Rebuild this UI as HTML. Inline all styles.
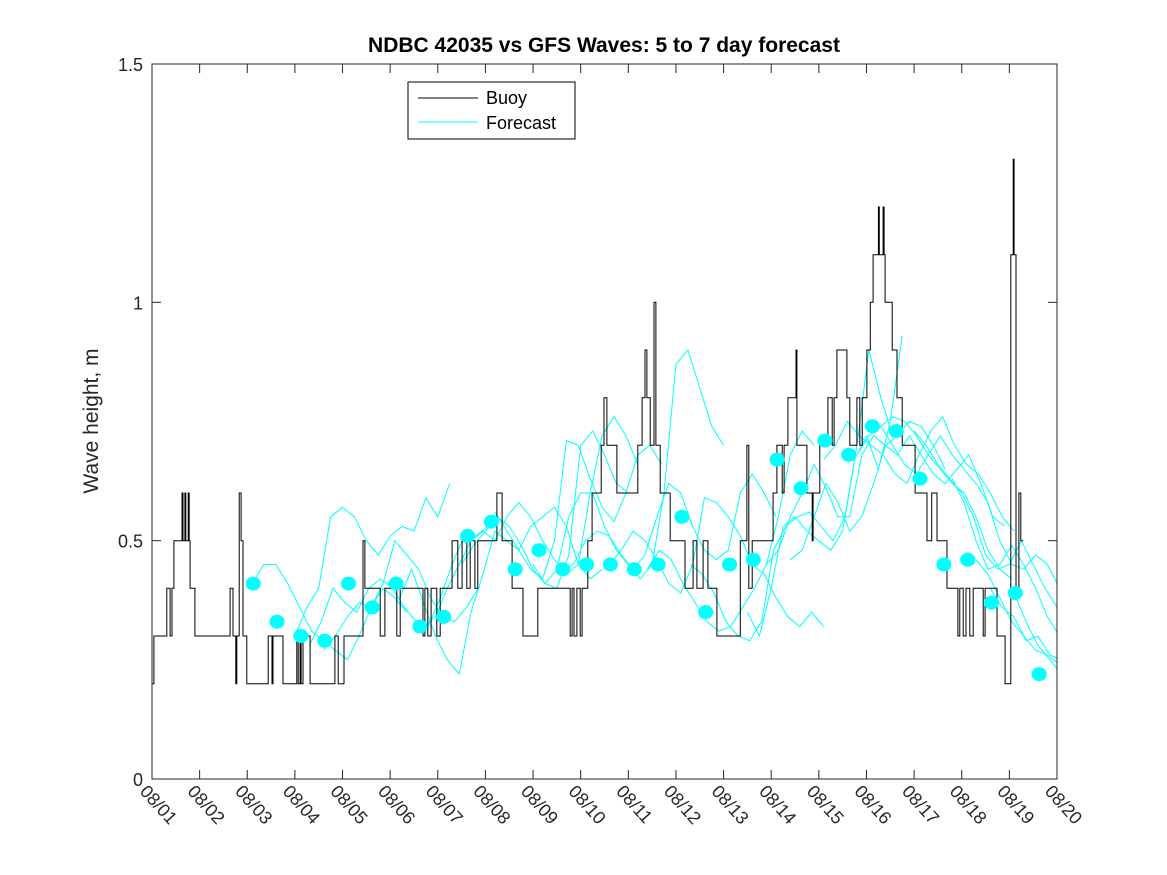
<!DOCTYPE html>
<html><head><meta charset="utf-8"><style>
html,body{margin:0;padding:0;background:#fff;}
svg{display:block;font-family:"Liberation Sans",sans-serif;}
</style></head><body>
<svg id="chart" width="1167" height="875" viewBox="0 0 1167 875">
<rect x="0" y="0" width="1167" height="875" fill="#fff"/>
<text x="604" y="52" text-anchor="middle" font-size="21" font-weight="bold">NDBC 42035 vs GFS Waves: 5 to 7 day forecast</text>
<text transform="translate(98,421) rotate(-90)" text-anchor="middle" font-size="21" fill="#262626">Wave height, m</text>
<defs><clipPath id="pc"><rect x="152" y="64" width="905" height="715"/></clipPath></defs>
<g id="series" clip-path="url(#pc)"></g>
<g id="axes"></g>
<g>
<rect x="408" y="82" width="167" height="57" fill="#fff" stroke="#000" stroke-width="1"/>
<line x1="418" y1="98" x2="478" y2="98" stroke="#000" stroke-width="1"/>
<text x="486" y="104" font-size="18">Buoy</text>
<line x1="418" y1="122" x2="478" y2="122" stroke="#00ffff" stroke-width="1"/>
<text x="486" y="129" font-size="18">Forecast</text>
</g>
</svg>
<script>
const xTickLabels=["08/01","08/02","08/03","08/04","08/05","08/06","08/07","08/08","08/09","08/10","08/11","08/12","08/13","08/14","08/15","08/16","08/17","08/18","08/19","08/20"];
const yTicks=[0,0.5,1,1.5];
const yTickLabels=["0","0.5","1","1.5"];
// buoy step series: day since 08/01, value
const buoyDays=[0,0.04,0.31,0.38,0.42,0.46,0.63,0.65,0.69,0.71,0.76,0.78,0.80,0.90,1.64,1.70,1.76,1.78,1.83,1.87,1.91,1.99,2.44,2.52,2.54,2.75,3.04,3.07,3.11,3.13,3.17,3.32,3.84,3.91,4.03,4.43,4.47,4.79,4.89,5.14,5.21,5.69,5.73,5.79,5.86,5.98,6.05,6.30,6.42,6.51,6.61,6.68,6.78,6.84,7.24,7.35,7.56,7.79,8.10,8.78,8.82,8.86,8.92,8.99,9.03,9.15,9.24,9.43,9.49,9.55,9.76,10.20,10.29,10.35,10.39,10.46,10.54,10.58,10.67,10.88,11.19,11.36,11.44,11.57,11.67,11.86,12.35,12.49,12.53,12.60,13.04,13.12,13.23,13.27,13.35,13.52,13.54,13.75,13.86,13.88,14.02,14.19,14.28,14.32,14.38,14.59,14.65,14.80,14.86,14.91,15.01,15.08,15.14,15.25,15.27,15.35,15.37,15.39,15.54,15.64,15.75,16.02,16.27,16.37,16.48,16.69,16.92,16.96,17.03,17.09,17.17,17.24,17.45,17.49,17.74,17.91,18.03,18.08,18.10,18.14,18.20,18.24,18.29];
const buoyVals=[0.2,0.3,0.4,0.3,0.4,0.5,0.6,0.5,0.6,0.5,0.6,0.5,0.4,0.3,0.4,0.3,0.2,0.3,0.6,0.5,0.3,0.2,0.3,0.2,0.3,0.2,0.3,0.2,0.3,0.2,0.3,0.2,0.3,0.2,0.3,0.5,0.4,0.3,0.4,0.3,0.4,0.3,0.4,0.3,0.4,0.3,0.4,0.5,0.4,0.5,0.4,0.5,0.4,0.5,0.6,0.5,0.4,0.3,0.4,0.3,0.4,0.3,0.4,0.3,0.4,0.5,0.6,0.7,0.8,0.7,0.6,0.7,0.8,0.9,0.8,0.7,1.0,0.7,0.6,0.5,0.4,0.5,0.4,0.5,0.4,0.3,0.5,0.7,0.4,0.5,0.6,0.7,0.6,0.7,0.8,0.9,0.7,0.6,0.5,0.6,0.7,0.8,0.7,0.8,0.9,0.8,0.7,0.8,0.7,0.8,0.9,1.0,1.1,1.2,1.1,1.2,1.1,1.0,0.9,0.8,0.7,0.6,0.5,0.6,0.5,0.4,0.3,0.4,0.3,0.4,0.3,0.4,0.3,0.4,0.3,0.2,1.1,1.3,1.1,0.4,0.6,0.5,0.5];
// forecast dots (every 0.5 day from day 2.125)
const dotStart=2.125;
const dotVals=[0.41,0.33,0.30,0.29,0.41,0.36,0.41,0.32,0.34,0.51,0.54,0.44,0.48,0.44,0.45,0.45,0.44,0.45,0.55,0.35,0.45,0.46,0.67,0.61,0.71,0.68,0.74,0.73,0.63,0.45,0.46,0.37,0.39,0.22];
// forecast runs: start day, values every 0.25 day
const runStarts=[2.1,3.0,3.3,3.6,5.2,5.7,6.5,7.2,8.0,8.6,9.6,10.4,11.3,12.5,12.9,13.4,14.1,14.8,15.3,16.0,16.8,17.3,17.6,18.1];
const runVals=[
[0.41,0.45,0.45,0.41,0.36,0.31,0.29,0.27,0.25,0.30,0.36,0.40,0.38,0.35],
[0.30,0.36,0.40,0.55,0.57,0.55,0.50,0.47,0.51,0.53,0.52,0.59,0.55,0.62],
[0.28,0.33,0.40,0.37,0.35,0.40,0.42,0.40,0.36,0.33,0.32,0.38,0.45,0.51,0.51,0.53],
[0.27,0.30,0.34,0.37,0.36,0.41,0.50,0.47,0.44,0.38,0.34,0.33,0.36,0.40],
[0.38,0.44,0.37,0.30,0.25,0.22,0.35,0.43,0.52,0.50,0.48,0.53,0.55,0.57,0.53,0.45,0.42,0.44],
[0.32,0.34,0.40,0.45,0.50,0.52,0.50,0.55,0.58,0.55,0.50,0.46,0.43,0.45,0.60,0.72,0.76,0.72,0.66],
[0.45,0.49,0.52,0.55,0.53,0.49,0.44,0.41,0.40,0.47,0.70,0.73,0.68,0.62,0.60],
[0.56,0.52,0.48,0.44,0.42,0.50,0.71,0.70,0.63,0.57,0.54,0.60,0.68,0.70,0.66],
[0.45,0.41,0.44,0.55,0.60,0.60,0.53,0.48,0.45,0.42,0.45,0.60,0.87,0.90,0.82,0.74,0.70],
[0.44,0.45,0.50,0.52,0.51,0.47,0.44,0.47,0.55,0.62,0.60,0.53,0.48,0.46,0.48,0.60,0.64,0.60,0.55],
[0.45,0.48,0.52,0.50,0.46,0.41,0.39,0.45,0.59,0.58,0.55,0.51,0.45,0.43,0.38,0.34,0.32,0.35,0.32],
[0.44,0.48,0.46,0.41,0.37,0.33,0.31,0.32,0.36,0.40,0.45,0.55,0.68,0.73,0.70],
[0.45,0.43,0.39,0.33,0.30,0.29,0.33,0.48,0.53,0.55,0.56,0.53,0.50,0.55,0.70,0.90,0.80,0.72],
[0.35,0.30,0.40,0.53,0.55,0.52,0.50,0.48,0.52,0.67,0.72,0.65,0.75,0.93],
[0.45,0.48,0.55,0.60,0.66,0.61,0.55,0.55,0.68,0.72,0.70,0.72,0.75,0.74,0.70,0.65],
[0.46,0.48,0.55,0.62,0.58,0.52,0.55,0.62,0.70,0.68,0.72,0.68,0.64,0.62,0.65,0.68,0.62,0.55,0.53],
[0.67,0.70,0.75,0.72,0.70,0.68,0.64,0.62,0.68,0.73,0.76,0.70,0.66,0.64,0.60,0.55,0.52],
[0.68,0.72,0.74,0.76,0.75,0.72,0.68,0.65,0.62,0.60,0.55,0.48,0.44,0.42],
[0.74,0.70,0.66,0.64,0.68,0.72,0.68,0.65,0.62,0.58,0.50,0.45,0.44,0.47,0.45,0.40],
[0.73,0.70,0.66,0.63,0.60,0.55,0.47,0.44,0.45,0.50,0.45,0.40,0.36,0.33],
[0.63,0.58,0.50,0.44,0.45,0.49,0.45,0.40,0.34,0.30,0.28,0.26,0.24],
[0.46,0.43,0.38,0.33,0.30,0.27,0.26,0.24,0.22,0.20,0.19,0.18,0.18],
[0.40,0.36,0.34,0.29,0.30,0.26,0.25,0.31,0.27,0.22,0.20,0.19,0.23],
[0.39,0.33,0.28,0.25,0.22,0.21,0.20,0.19]
];
const NS="http://www.w3.org/2000/svg";
const X0=152,X1=1057,Y0=779,Y1=64,DAYS=19,YMAX=1.5;
function xs(d){return X0+(X1-X0)*d/DAYS;}
function ys(v){return Y0-(Y0-Y1)*v/YMAX;}
function mk(tag,attrs,parent){const e=document.createElementNS(NS,tag);for(const k in attrs)e.setAttribute(k,attrs[k]);parent.appendChild(e);return e;}
const series=document.getElementById('series'),axes=document.getElementById('axes');
runVals.forEach((vals,i)=>{
  const pts=vals.map((v,j)=>xs(runStarts[i]+0.25*j).toFixed(1)+','+ys(v).toFixed(1)).join(' ');
  const pl=mk('polyline',{points:pts,fill:'none',stroke:'#00ffff','stroke-width':1},series);
  
  
});
let d='';
buoyDays.forEach((t,i)=>{
  const x=xs(t).toFixed(1),y=ys(buoyVals[i]).toFixed(1);
  if(i===0)d+='M'+x+','+y;else d+='L'+x+','+ys(buoyVals[i-1]).toFixed(1)+'L'+x+','+y;
});
const bl=mk('path',{d:d,fill:'none',stroke:'#000','stroke-width':1},series);


dotVals.forEach((v,i)=>{
  const c=mk('ellipse',{cx:xs(dotStart+0.5*i),cy:ys(v),rx:7.5,ry:7,fill:'#00ffff'},series);
  
  
});
const fr=mk('rect',{x:X0,y:Y1,width:X1-X0,height:Y0-Y1,fill:'none',stroke:'#262626','stroke-width':1},axes);


xTickLabels.forEach((lab,i)=>{
  const x=xs(i);
  mk('line',{x1:x,y1:Y0,x2:x,y2:Y0-9,stroke:'#262626'},axes);
  mk('line',{x1:x,y1:Y1,x2:x,y2:Y1+9,stroke:'#262626'},axes);
  const t=mk('text',{transform:'translate('+(x-13)+','+(Y0+13)+') rotate(48)','font-size':18,fill:'#262626'},axes);
  t.textContent=lab;
  
  
});
yTicks.forEach((v,i)=>{
  const y=ys(v);
  mk('line',{x1:X0,y1:y,x2:X0+9,y2:y,stroke:'#262626'},axes);
  mk('line',{x1:X1,y1:y,x2:X1-9,y2:y,stroke:'#262626'},axes);
  const t=mk('text',{x:X0-9,y:y+7,'text-anchor':'end','font-size':18,fill:'#262626'},axes);
  t.textContent=yTickLabels[i];
  
  
});
</script>
</body></html>
